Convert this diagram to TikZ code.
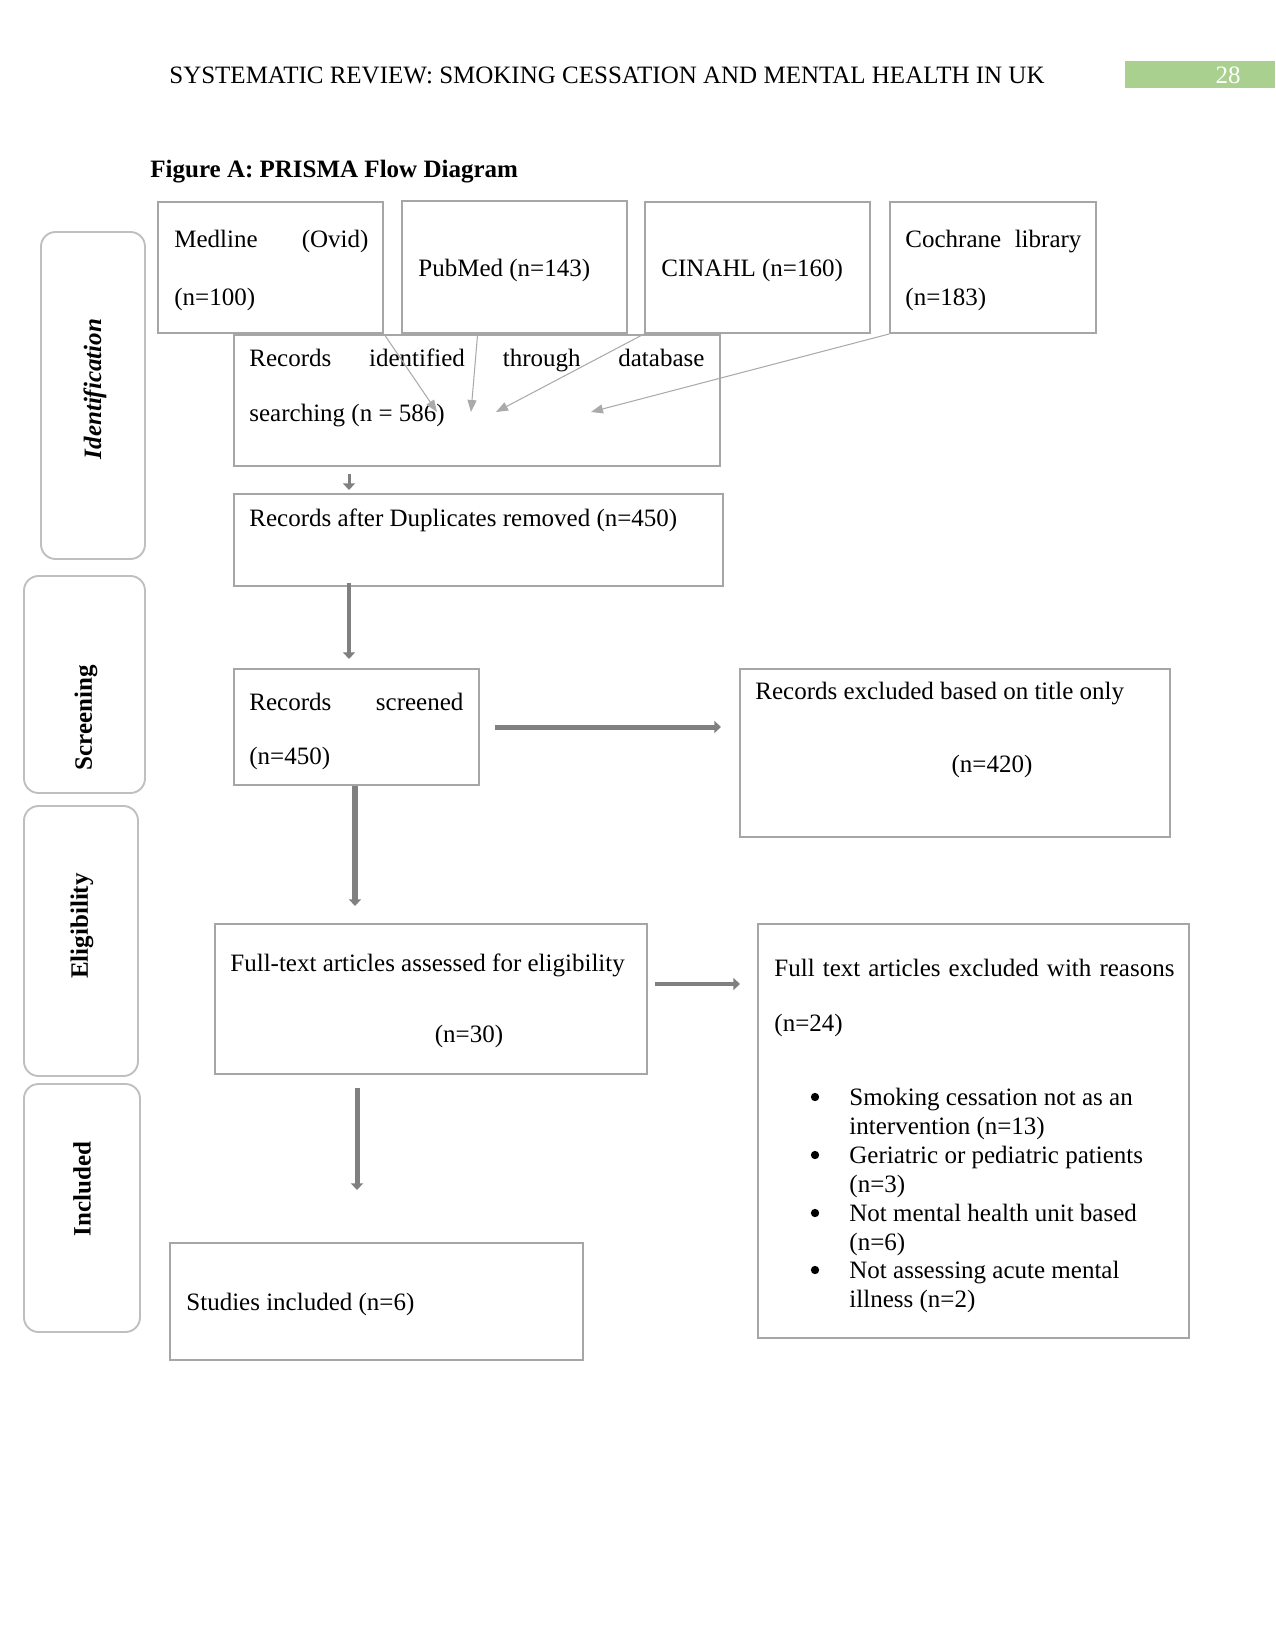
\documentclass[tikz,border=0pt]{standalone}
\usepackage{fontspec}
\setmainfont{Liberation Serif}
\usetikzlibrary{arrows.meta,fit,calc}
\newdimen\px \px=0.48pt
\definecolor{boxgray}{RGB}{166,166,166}
\definecolor{phasegray}{RGB}{191,191,191}
\definecolor{arrgray}{RGB}{128,128,128}
\definecolor{thingray}{RGB}{170,170,170}
\definecolor{hdrgreen}{RGB}{169,208,142}
\begin{document}
\begin{tikzpicture}[x=0.48pt,y=-0.48pt,
  box/.style={draw=boxgray, line width=1pt, inner sep=0pt},
  phase/.style={draw=phasegray, line width=0.9pt, rounded corners=7pt, inner sep=0pt},
  txt/.style={anchor=west, inner sep=0pt, yshift=-1.1pt, font=\fontsize{12}{14}\selectfont},
  ctxt/.style={anchor=center, inner sep=0pt, font=\fontsize{12}{14}\selectfont},
  plabel/.style={rotate=90, inner sep=0pt, font=\fontsize{12}{14}\selectfont\bfseries},
  bul/.style={circle, fill=black, inner sep=0pt, minimum size=4pt},
  thinarr/.style={draw=thingray, line width=0.5pt, -{Triangle[length=5.76pt,width=4.32pt]}},
  blk/.style={draw=arrgray, line width=1.92pt, -{Triangle[length=3.2pt,width=5.8pt]}}]
\useasboundingbox (0,0) rectangle (1275,1650);
\fill[white] (0,0) rectangle (1275,1650);

% header
\node[ctxt] (hdr) at (607,75) {SYSTEMATIC REVIEW: SMOKING CESSATION AND MENTAL HEALTH IN UK};
\node[fill=hdrgreen, inner sep=0pt, fit={(1125,61) (1275,88)}] (pg) {};
\node[ctxt, text=white] (pgnum) at (1228,75) {28};
\node[txt, yshift=-0.6pt, font=\fontsize{12}{14}\selectfont\bfseries] (title) at (150,168) {Figure A: PRISMA Flow Diagram};

% phase boxes
\node[phase, fit={(41,232) (145,559)}] (pid) {};
\node[phase, fit={(24,576) (145,793)}] (pscr) {};
\node[phase, fit={(24,806) (138,1076)}] (pel) {};
\node[phase, fit={(24,1084) (140,1332)}] (pinc) {};
\node[plabel, font=\fontsize{12}{14}\selectfont\bfseries\itshape] (lid) at (95,389) {Identification};
\node[plabel] (lscr) at (86,718) {Screening};
\node[plabel] (lel) at (82,926) {Eligibility};
\node[plabel] (linc) at (82,1189) {Included};

% database boxes
\node[box, fit={(158,202) (383,333)}] (med) {};
\node[box, line width=1.4pt, fit={(402,201) (627,333)}] (pub) {};
\node[box, fit={(645,202) (870,333)}] (cin) {};
\node[box, fit={(890,202) (1096,333)}] (coc) {};
\node[txt] (medt1) at (174,239) {\hbox to 194\px{Medline\hfill(Ovid)}};
\node[txt] (medt2) at (174,297) {(n=100)};
\node[txt] (pubt) at (418,268) {PubMed (n=143)};
\node[txt] (cint) at (661,268) {CINAHL (n=160)};
\node[txt] (coct1) at (905,239) {\hbox to 176\px{Cochrane\hfill library}};
\node[txt] (coct2) at (905,297) {(n=183)};

% records identified
\node[box, line width=1.3pt, fit={(234,335) (720,466)}] (rec) {};
\node[txt] (rect1) at (249,358) {\hbox to 455\px{Records\hfill identified\hfill through\hfill database}};
\node[txt] (rect2) at (249,413) {searching (n = 586)};

\coordinate (t1) at (437,412);
\coordinate (t2) at (471,412);
\coordinate (t3) at (496,412);
\coordinate (t4) at (591,412);
\draw[thinarr] (med.south east) -- (t1);
\draw[thinarr] ($(pub.south west)!0.338!(pub.south east)$) -- (t2);
\draw[thinarr] (cin.south west) -- (t3);
\draw[thinarr] (coc.south west) -- (t4);

% duplicates
\node[box, fit={(234,494) (723,586)}] (dup) {};
\node[txt] (dupt) at (249,518) {Records after Duplicates removed (n=450)};

% screened
\node[box, fit={(234,669) (479,785)}] (scr) {};
\node[txt] (scrt1) at (249,700) {\hbox to 214\px{Records\hfill screened}};
\node[txt] (scrt2) at (249,756) {(n=450)};

% excluded on title
\node[box, fit={(740,669) (1170,837)}] (exc) {};
\node[txt] (exct1) at (755,691) {Records excluded based on title only};
\node[ctxt] (exct2) at (992,766) {(n=420)};

% full-text assessed
\node[box, fit={(215,924) (647,1074)}] (ft) {};
\node[txt] (ftt1) at (230,963) {Full-text articles assessed for eligibility};
\node[ctxt] (ftt2) at (469,1036) {(n=30)};

% full-text excluded
\node[box, fit={(758,924) (1189,1338)}] (ftx) {};
\node[txt] (ftxt1) at (774,966) {\makebox[400\px][s]{Full text articles excluded with reasons}};
\node[txt] (ftxt2) at (774,1023) {(n=24)};
\node[bul] (b1) at (815,1097) {};
\node[bul] (b2) at (815,1155) {};
\node[bul] (b3) at (815,1213) {};
\node[bul] (b4) at (815,1270) {};
\node[txt, align=left, font=\fontsize{12}{13.8}\selectfont] (r1) at (849,1112) {Smoking cessation not as an\\intervention (n=13)};
\node[txt, align=left, font=\fontsize{12}{13.8}\selectfont] (r2) at (849,1170) {Geriatric or pediatric patients\\(n=3)};
\node[txt, align=left, font=\fontsize{12}{13.8}\selectfont] (r3) at (849,1228) {Not mental health unit based\\(n=6)};
\node[txt, align=left, font=\fontsize{12}{13.8}\selectfont] (r4) at (849,1285) {Not assessing acute mental\\illness (n=2)};

% studies included
\node[box, fit={(170,1243) (583,1360)}] (inc) {};
\node[txt] (inct) at (186,1302) {Studies included (n=6)};

% block arrows
\draw[blk, line width=1.44pt, shorten <=3.36pt, shorten >=1.44pt] (rec.south -| 349,0) -- (dup.north -| 349,0);
\draw[blk, shorten <=-1.92pt, shorten >=4.32pt] (dup.south -| 349,0) -- (scr.north -| 349,0);
\draw[blk, line width=2.4pt, shorten <=7.2pt, shorten >=8.64pt] (scr.east |- 0,727) -- (exc.west |- 0,727);
\draw[blk, line width=2.88pt, shorten >=8.16pt] (scr.south -| 355,0) -- (ft.north -| 355,0);
\draw[blk, shorten <=3.36pt, shorten >=8.16pt] (ft.east |- 0,984) -- (ftx.west |- 0,984);
\draw[blk, line width=2.4pt, shorten <=6.24pt, shorten >=24.96pt] (ft.south -| 357,0) -- (inc.north -| 357,0);
\end{tikzpicture}
\end{document}
